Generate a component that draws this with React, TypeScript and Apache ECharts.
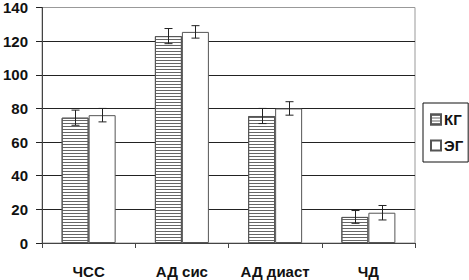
import React, { useEffect, useRef } from "react";
import * as echarts from "echarts";

const categories = ["ЧСС", "АД сис", "АД диаст", "ЧД"];
const seriesNames = ["КГ", "ЭГ"];
const kgValues = [74.5, 123, 75.5, 15.5];
const kgErrors = [4.5, 4.5, 4.5, 3.8];
const egValues = [76, 125.5, 80, 18];
const egErrors = [4, 3.7, 4, 4.3];
const yTicks = [0, 20, 40, 60, 80, 100, 120, 140];

const FONT = "Liberation Sans";

function errSeries(vals: number[], errs: number[], offset: number) {
  return {
    type: "custom",
    z: 10,
    data: vals.map((v, i) => [i, v, errs[i]]),
    encode: { x: 0, y: 1 },
    silent: true,
    renderItem: (_p: any, api: any) => {
      const i = api.value(0);
      const v = api.value(1);
      const e = api.value(2);
      const hi = api.coord([i, v + e]);
      const lo = api.coord([i, v - e]);
      const x = Math.round(hi[0] + offset) + 0.5;
      const w = 4;
      const st = { stroke: "#222", lineWidth: 1 };
      return {
        type: "group",
        children: [
          { type: "line", shape: { x1: x, y1: hi[1], x2: x, y2: lo[1] }, style: st },
          { type: "line", shape: { x1: x - w, y1: hi[1], x2: x + w, y2: hi[1] }, style: st },
          { type: "line", shape: { x1: x - w, y1: lo[1], x2: x + w, y2: lo[1] }, style: st },
        ],
      };
    },
  };
}

export default function App() {
  const ref = useRef<HTMLDivElement>(null);
  useEffect(() => {
    if (!ref.current) return;
    const chart = echarts.init(ref.current, null, { renderer: "svg" });
    const barW = 27;
    chart.setOption({
      animation: false,
      backgroundColor: "#fff",
      textStyle: { fontFamily: FONT },
      grid: {
        left: 39,
        right: 54,
        top: 5,
        bottom: 37,
        show: true,
        borderColor: "#999",
        borderWidth: 1,
      },
      legend: {
        data: seriesNames,
        orient: "vertical",
        left: 423,
        top: 103,
        width: 45,
        borderColor: "#111",
        borderWidth: 1,
        padding: [9, 5, 9, 7],
        itemWidth: 10,
        itemHeight: 10,
        itemGap: 11,
        icon: "rect",
        textStyle: { fontFamily: FONT, fontWeight: "bold", fontSize: 15, color: "#111", padding: [0, 0, 0, -2] },
      },
      xAxis: {
        type: "category",
        data: categories,
        axisLine: { lineStyle: { color: "#444", width: 1 } },
        axisTick: { show: true, length: 5, lineStyle: { color: "#444" } },
        axisLabel: { fontFamily: FONT, fontWeight: "bold", fontSize: 15, color: "#111", margin: 21 },
      },
      yAxis: {
        type: "value",
        min: yTicks[0],
        max: yTicks[yTicks.length - 1],
        interval: 20,
        axisLine: { show: true, lineStyle: { color: "#444", width: 1 } },
        axisTick: { show: true, length: 6, lineStyle: { color: "#222" } },
        axisLabel: { fontFamily: FONT, fontWeight: "bold", fontSize: 15, color: "#111", margin: 14 },
        splitLine: {
          show: true,
          lineStyle: { color: ["#222", "#222", "#222", "#222", "#222", "#222", "#222", "#999"], width: 1 },
        },
      },
      series: [
        {
          name: seriesNames[0],
          type: "bar",
          data: kgValues,
          barWidth: barW,
          barGap: "0%",
          itemStyle: {
            color: "#fff",
            borderColor: "#555",
            borderWidth: 1,
            decal: {
              symbol: "rect",
              symbolSize: 1,
              dashArrayX: [1, 0],
              dashArrayY: [1, 2],
              rotation: 0,
              color: "#666",
            },
          },
        },
        {
          name: seriesNames[1],
          type: "bar",
          data: egValues,
          barWidth: barW,
          barGap: "0%",
          itemStyle: { color: "#fff", borderColor: "#555", borderWidth: 1 },
        },
        errSeries(kgValues, kgErrors, -barW / 2),
        errSeries(egValues, egErrors, barW / 2),
      ],
    });
    return () => chart.dispose();
  }, []);
  return <div ref={ref} style={{ width: 469, height: 280, position: "absolute", left: 0, top: 0 }} />;
}
